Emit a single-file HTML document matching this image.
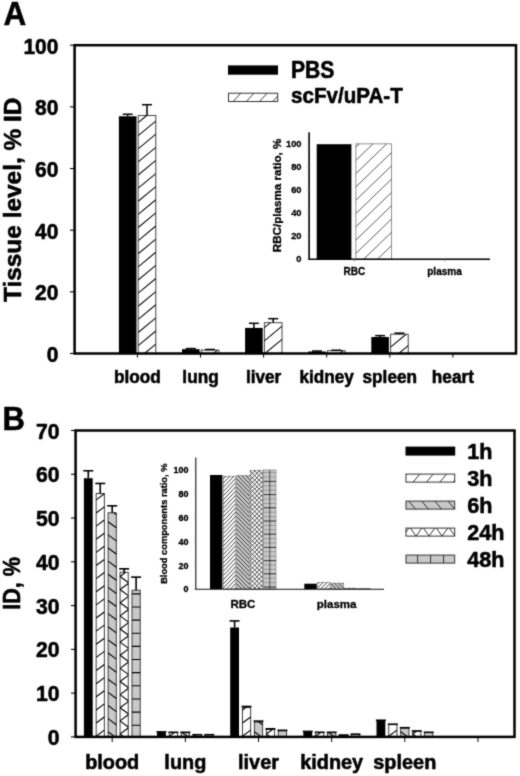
<!DOCTYPE html>
<html lang="en"><head><meta charset="utf-8"><title>Figure: tissue distribution</title>
<style>html,body{margin:0;padding:0;background:#fff}body{width:520px;height:776px;overflow:hidden}svg{display:block}text{font-family:'Liberation Sans', Arial, Helvetica, sans-serif;font-weight:bold;fill:#000}</style>
</head><body>
<svg width="520" height="776" viewBox="0 0 520 776">
<rect width="520" height="776" fill="#fff"/>
<defs><filter id="soft" x="0" y="0" width="520" height="776" filterUnits="userSpaceOnUse" color-interpolation-filters="sRGB"><feConvolveMatrix order="3" kernelMatrix="1 3 1 3 18 3 1 3 1" divisor="34" edgeMode="duplicate"/></filter></defs>
<g filter="url(#soft)">
<g id="panelA">
<text font-size="31.5" text-anchor="start" stroke="#000" stroke-width="0.55" stroke-linejoin="round" transform="translate(3.4 25.2) scale(1 1.05)">A</text>
<rect x="118.9" y="116.26" width="17.6" height="237.24" fill="#000"/>
<line x1="127.7" y1="116.26" x2="127.7" y2="114.26" stroke="#000" stroke-width="1.5"/>
<line x1="122.7" y1="114.26" x2="132.7" y2="114.26" stroke="#000" stroke-width="1.5"/>
<rect x="138.2" y="115.49" width="17.6" height="238.01" fill="#fff" stroke="#444" stroke-width="1"/>
<path d="M144.49 353.5L155.8 344.11M138.2 345.6L155.8 330.99M138.2 332.48L155.8 317.87M138.2 319.36L155.8 304.75M138.2 306.24L155.8 291.63M138.2 293.12L155.8 278.51M138.2 280L155.8 265.39M138.2 266.88L155.8 252.27M138.2 253.76L155.8 239.15M138.2 240.64L155.8 226.03M138.2 227.52L155.8 212.91M138.2 214.4L155.8 199.79M138.2 201.28L155.8 186.67M138.2 188.16L155.8 173.55M138.2 175.04L155.8 160.43M138.2 161.92L155.8 147.31M138.2 148.8L155.8 134.19M138.2 135.68L155.8 121.07M138.2 122.56L146.72 115.49" fill="none" stroke="#111" stroke-width="1.1"/>
<line x1="147" y1="115.49" x2="147" y2="104.7" stroke="#000" stroke-width="1.5"/>
<line x1="142" y1="104.7" x2="152" y2="104.7" stroke="#000" stroke-width="1.5"/>
<rect x="182" y="349.18" width="17.6" height="4.32" fill="#000"/>
<line x1="190.8" y1="349.18" x2="190.8" y2="348.57" stroke="#000" stroke-width="1.5"/>
<line x1="185.8" y1="348.57" x2="195.8" y2="348.57" stroke="#000" stroke-width="1.5"/>
<rect x="201.3" y="350.11" width="17.6" height="3.39" fill="#fff" stroke="#444" stroke-width="1"/>
<path d="M213.49 353.5L217.58 350.11M201.3 350.5L201.77 350.11" fill="none" stroke="#111" stroke-width="1.1"/>
<line x1="210.1" y1="350.11" x2="210.1" y2="349.49" stroke="#000" stroke-width="1.5"/>
<line x1="205.1" y1="349.49" x2="215.1" y2="349.49" stroke="#000" stroke-width="1.5"/>
<rect x="245.1" y="327.91" width="17.6" height="25.59" fill="#000"/>
<line x1="253.9" y1="327.91" x2="253.9" y2="323.29" stroke="#000" stroke-width="1.5"/>
<line x1="248.9" y1="323.29" x2="258.9" y2="323.29" stroke="#000" stroke-width="1.5"/>
<rect x="264.4" y="322.67" width="17.6" height="30.83" fill="#fff" stroke="#444" stroke-width="1"/>
<path d="M280.71 353.5L282 352.43M264.91 353.5L282 339.31M264.4 340.8L282 326.19M264.4 327.68L270.44 322.67" fill="none" stroke="#111" stroke-width="1.1"/>
<line x1="273.2" y1="322.67" x2="273.2" y2="318.66" stroke="#000" stroke-width="1.5"/>
<line x1="268.2" y1="318.66" x2="278.2" y2="318.66" stroke="#000" stroke-width="1.5"/>
<rect x="308.2" y="351.5" width="17.6" height="2" fill="#000"/>
<line x1="317" y1="351.5" x2="317" y2="351.03" stroke="#000" stroke-width="1.5"/>
<line x1="312" y1="351.03" x2="322" y2="351.03" stroke="#000" stroke-width="1.5"/>
<rect x="327.5" y="350.73" width="17.6" height="2.77" fill="#fff" stroke="#444" stroke-width="1"/>
<path d="M339.69 353.5L343.04 350.73" fill="none" stroke="#111" stroke-width="1.1"/>
<line x1="336.3" y1="350.73" x2="336.3" y2="350.26" stroke="#000" stroke-width="1.5"/>
<line x1="331.3" y1="350.26" x2="341.3" y2="350.26" stroke="#000" stroke-width="1.5"/>
<rect x="371.3" y="337.01" width="17.6" height="16.49" fill="#000"/>
<line x1="380.1" y1="337.01" x2="380.1" y2="335.62" stroke="#000" stroke-width="1.5"/>
<line x1="375.1" y1="335.62" x2="385.1" y2="335.62" stroke="#000" stroke-width="1.5"/>
<rect x="390.6" y="334.23" width="17.6" height="19.27" fill="#fff" stroke="#444" stroke-width="1"/>
<path d="M398.7 353.5L408.2 345.61M390.6 347.1L406.1 334.23" fill="none" stroke="#111" stroke-width="1.1"/>
<line x1="399.4" y1="334.23" x2="399.4" y2="333.15" stroke="#000" stroke-width="1.5"/>
<line x1="394.4" y1="333.15" x2="404.4" y2="333.15" stroke="#000" stroke-width="1.5"/>
<rect x="74.6" y="45.2" width="441.4" height="308.3" fill="none" stroke="#000" stroke-width="2.5"/>
<line x1="70" y1="353.5" x2="74.6" y2="353.5" stroke="#000" stroke-width="1.1"/>
<text font-size="21" text-anchor="end" stroke="#000" stroke-width="0.55" stroke-linejoin="round" transform="translate(58.4 361.9) scale(1 1.07)">0</text>
<line x1="70" y1="291.84" x2="74.6" y2="291.84" stroke="#000" stroke-width="1.1"/>
<text font-size="21" text-anchor="end" stroke="#000" stroke-width="0.55" stroke-linejoin="round" transform="translate(58.4 300.24) scale(1 1.07)">20</text>
<line x1="70" y1="230.18" x2="74.6" y2="230.18" stroke="#000" stroke-width="1.1"/>
<text font-size="21" text-anchor="end" stroke="#000" stroke-width="0.55" stroke-linejoin="round" transform="translate(58.4 238.58) scale(1 1.07)">40</text>
<line x1="70" y1="168.52" x2="74.6" y2="168.52" stroke="#000" stroke-width="1.1"/>
<text font-size="21" text-anchor="end" stroke="#000" stroke-width="0.55" stroke-linejoin="round" transform="translate(58.4 176.92) scale(1 1.07)">60</text>
<line x1="70" y1="106.86" x2="74.6" y2="106.86" stroke="#000" stroke-width="1.1"/>
<text font-size="21" text-anchor="end" stroke="#000" stroke-width="0.55" stroke-linejoin="round" transform="translate(58.4 115.26) scale(1 1.07)">80</text>
<line x1="70" y1="45.2" x2="74.6" y2="45.2" stroke="#000" stroke-width="1.1"/>
<text font-size="21" text-anchor="end" stroke="#000" stroke-width="0.55" stroke-linejoin="round" transform="translate(58.4 53.6) scale(1 1.07)">100</text>
<line x1="137.4" y1="353.5" x2="137.4" y2="357.6" stroke="#000" stroke-width="1"/>
<text font-size="17.2" text-anchor="middle" stroke="#000" stroke-width="0.55" stroke-linejoin="round" transform="translate(137.4 382.9) scale(1 1.1)">blood</text>
<line x1="200.5" y1="353.5" x2="200.5" y2="357.6" stroke="#000" stroke-width="1"/>
<text font-size="17.2" text-anchor="middle" stroke="#000" stroke-width="0.55" stroke-linejoin="round" transform="translate(200.5 382.9) scale(1 1.1)">lung</text>
<line x1="263.6" y1="353.5" x2="263.6" y2="357.6" stroke="#000" stroke-width="1"/>
<text font-size="17.2" text-anchor="middle" stroke="#000" stroke-width="0.55" stroke-linejoin="round" transform="translate(263.6 382.9) scale(1 1.1)">liver</text>
<line x1="326.7" y1="353.5" x2="326.7" y2="357.6" stroke="#000" stroke-width="1"/>
<text font-size="17.2" text-anchor="middle" stroke="#000" stroke-width="0.55" stroke-linejoin="round" transform="translate(326.7 382.9) scale(1 1.1)">kidney</text>
<line x1="389.8" y1="353.5" x2="389.8" y2="357.6" stroke="#000" stroke-width="1"/>
<text font-size="17.2" text-anchor="middle" stroke="#000" stroke-width="0.55" stroke-linejoin="round" transform="translate(389.8 382.9) scale(1 1.1)">spleen</text>
<line x1="452.9" y1="353.5" x2="452.9" y2="357.6" stroke="#000" stroke-width="1"/>
<text font-size="17.2" text-anchor="middle" stroke="#000" stroke-width="0.55" stroke-linejoin="round" transform="translate(452.9 382.9) scale(1 1.1)">heart</text>
<text font-size="23.5" text-anchor="middle" stroke="#000" stroke-width="0.55" stroke-linejoin="round" transform="translate(21 199.8) rotate(-90) scale(1.04 1)">Tissue level, % ID</text>
<rect x="228" y="65.4" width="50" height="9.3" fill="#000"/>
<rect x="228.5" y="93.2" width="49.2" height="8.3" fill="#fff" stroke="#333" stroke-width="1"/>
<path d="M272.77 101.5L277.7 96.08M259.59 101.5L267.14 93.2M246.41 101.5L253.95 93.2M233.23 101.5L240.77 93.2" fill="none" stroke="#2a2a2a" stroke-width="0.9"/>
<text font-size="21.1" text-anchor="start" stroke="#000" stroke-width="0.55" stroke-linejoin="round" transform="translate(291 77.5) scale(1 1.1)">PBS</text>
<text font-size="20.6" text-anchor="start" stroke="#000" stroke-width="0.55" stroke-linejoin="round" transform="translate(291 103) scale(1 1.1)">scFv/uPA-T</text>
<rect x="316.7" y="144.2" width="34.7" height="115" fill="#000"/>
<rect x="355.9" y="143.86" width="35.5" height="115.34" fill="#fff" stroke="#777" stroke-width="0.8"/>
<path d="M391.2 259.2L391.4 259.01M377.43 259.2L391.4 245.71M363.66 259.2L391.4 232.41M355.9 253.4L391.4 219.11M355.9 240.1L391.4 205.81M355.9 226.8L391.4 192.51M355.9 213.5L391.4 179.21M355.9 200.2L391.4 165.91M355.9 186.9L391.4 152.61M355.9 173.6L386.69 143.86M355.9 160.3L372.92 143.86M355.9 147L359.16 143.86" fill="none" stroke="#333" stroke-width="0.8"/>
<line x1="309.1" y1="132.3" x2="309.1" y2="259.9" stroke="#000" stroke-width="1.6"/>
<line x1="308.3" y1="259.2" x2="490" y2="259.2" stroke="#000" stroke-width="1.6"/>
<line x1="306.9" y1="259.2" x2="309.1" y2="259.2" stroke="#999" stroke-width="0.6"/>
<text font-size="9.3" text-anchor="end" stroke="#000" stroke-width="0.3" stroke-linejoin="round" transform="translate(301.5 261.9)">0</text>
<line x1="306.9" y1="236.2" x2="309.1" y2="236.2" stroke="#999" stroke-width="0.6"/>
<text font-size="9.3" text-anchor="end" stroke="#000" stroke-width="0.3" stroke-linejoin="round" transform="translate(301.5 238.9)">20</text>
<line x1="306.9" y1="213.2" x2="309.1" y2="213.2" stroke="#999" stroke-width="0.6"/>
<text font-size="9.3" text-anchor="end" stroke="#000" stroke-width="0.3" stroke-linejoin="round" transform="translate(301.5 215.9)">40</text>
<line x1="306.9" y1="190.2" x2="309.1" y2="190.2" stroke="#999" stroke-width="0.6"/>
<text font-size="9.3" text-anchor="end" stroke="#000" stroke-width="0.3" stroke-linejoin="round" transform="translate(301.5 192.9)">60</text>
<line x1="306.9" y1="167.2" x2="309.1" y2="167.2" stroke="#999" stroke-width="0.6"/>
<text font-size="9.3" text-anchor="end" stroke="#000" stroke-width="0.3" stroke-linejoin="round" transform="translate(301.5 169.9)">80</text>
<line x1="306.9" y1="144.2" x2="309.1" y2="144.2" stroke="#999" stroke-width="0.6"/>
<text font-size="9.3" text-anchor="end" stroke="#000" stroke-width="0.3" stroke-linejoin="round" transform="translate(301.5 146.9)">100</text>
<line x1="354.3" y1="259.2" x2="354.3" y2="261.8" stroke="#777" stroke-width="0.7"/>
<line x1="444.7" y1="259.2" x2="444.7" y2="261.8" stroke="#777" stroke-width="0.7"/>
<text font-size="10" text-anchor="middle" stroke="#000" stroke-width="0.3" stroke-linejoin="round" transform="translate(354.3 275.2)">RBC</text>
<text font-size="10" text-anchor="middle" stroke="#000" stroke-width="0.3" stroke-linejoin="round" transform="translate(444.5 275.2)">plasma</text>
<text font-size="10.1" text-anchor="middle" stroke="#000" stroke-width="0.3" stroke-linejoin="round" transform="translate(281 195.4) rotate(-90) scale(1.15 1)">RBC/plasma ratio, %</text>
</g>
<g id="panelB">
<text font-size="31" text-anchor="start" stroke="#000" stroke-width="0.55" stroke-linejoin="round" transform="translate(2.6 430.3) scale(1 1.05)">B</text>
<rect x="83.9" y="478.21" width="8.8" height="258.69" fill="#000"/>
<line x1="88.3" y1="478.21" x2="88.3" y2="470.77" stroke="#000" stroke-width="1.6"/>
<line x1="83.3" y1="470.77" x2="93.3" y2="470.77" stroke="#000" stroke-width="1.6"/>
<rect x="96.15" y="493.53" width="8.2" height="243.37" fill="#fff" stroke="#3c3c3c" stroke-width="1"/>
<path d="M96.15 736.2L104.35 730.13M96.15 723.07L104.35 717M96.15 709.94L104.35 703.87M96.15 696.81L104.35 690.74M96.15 683.68L104.35 677.61M96.15 670.55L104.35 664.48M96.15 657.42L104.35 651.35M96.15 644.29L104.35 638.22M96.15 631.16L104.35 625.09M96.15 618.03L104.35 611.96M96.15 604.9L104.35 598.83M96.15 591.77L104.35 585.7M96.15 578.64L104.35 572.57M96.15 565.51L104.35 559.44M96.15 552.38L104.35 546.31M96.15 539.25L104.35 533.18M96.15 526.12L104.35 520.05M96.15 512.99L104.35 506.92M96.15 499.86L104.35 493.79" fill="none" stroke="#000" stroke-width="1.12"/>
<line x1="100.25" y1="493.53" x2="100.25" y2="483.46" stroke="#000" stroke-width="1.6"/>
<line x1="95.25" y1="483.46" x2="105.25" y2="483.46" stroke="#000" stroke-width="1.6"/>
<rect x="108.1" y="512.79" width="8.2" height="224.11" fill="#c9c9c9" stroke="#3c3c3c" stroke-width="1"/>
<path d="M108.1 731.8L114.99 736.9M108.1 718.67L116.3 724.74M108.1 705.54L116.3 711.61M108.1 692.41L116.3 698.48M108.1 679.28L116.3 685.35M108.1 666.15L116.3 672.22M108.1 653.02L116.3 659.09M108.1 639.89L116.3 645.96M108.1 626.76L116.3 632.83M108.1 613.63L116.3 619.7M108.1 600.5L116.3 606.57M108.1 587.37L116.3 593.44M108.1 574.24L116.3 580.31M108.1 561.11L116.3 567.18M108.1 547.98L116.3 554.05M108.1 534.85L116.3 540.92M108.1 521.72L116.3 527.79M113.78 512.79L116.3 514.66" fill="none" stroke="#000" stroke-width="1.12"/>
<line x1="112.2" y1="512.79" x2="112.2" y2="505.79" stroke="#000" stroke-width="1.6"/>
<line x1="107.2" y1="505.79" x2="117.2" y2="505.79" stroke="#000" stroke-width="1.6"/>
<rect x="120.05" y="572.32" width="8.2" height="164.58" fill="#fff" stroke="#3c3c3c" stroke-width="1"/>
<path d="M120.05 734L128.25 727.93M120.05 720.87L128.25 714.8M120.05 707.74L128.25 701.67M120.05 694.61L128.25 688.54M120.05 681.48L128.25 675.41M120.05 668.35L128.25 662.28M120.05 655.22L128.25 649.15M120.05 642.09L128.25 636.02M120.05 628.96L128.25 622.89M120.05 615.83L128.25 609.76M120.05 602.7L128.25 596.63M120.05 589.57L128.25 583.5M120.05 576.44L125.62 572.32M120.05 734L123.97 736.9M120.05 720.87L128.25 726.94M120.05 707.74L128.25 713.81M120.05 694.61L128.25 700.68M120.05 681.48L128.25 687.55M120.05 668.35L128.25 674.42M120.05 655.22L128.25 661.29M120.05 642.09L128.25 648.16M120.05 628.96L128.25 635.03M120.05 615.83L128.25 621.9M120.05 602.7L128.25 608.77M120.05 589.57L128.25 595.64M120.05 576.44L128.25 582.51" fill="none" stroke="#000" stroke-width="1.12"/>
<line x1="124.15" y1="572.32" x2="124.15" y2="568.82" stroke="#000" stroke-width="1.6"/>
<line x1="119.15" y1="568.82" x2="129.15" y2="568.82" stroke="#000" stroke-width="1.6"/>
<rect x="132" y="590.27" width="8.2" height="146.63" fill="#c9c9c9" stroke="#3c3c3c" stroke-width="1"/>
<path d="M132 725.2L140.2 725.2M132 712.07L140.2 712.07M132 698.94L140.2 698.94M132 685.81L140.2 685.81M132 672.68L140.2 672.68M132 659.55L140.2 659.55M132 646.42L140.2 646.42M132 633.29L140.2 633.29M132 620.16L140.2 620.16M132 607.03L140.2 607.03M132 593.9L140.2 593.9" fill="none" stroke="#000" stroke-width="1.12"/>
<line x1="136.1" y1="590.27" x2="136.1" y2="577.13" stroke="#000" stroke-width="1.6"/>
<line x1="131.1" y1="577.13" x2="141.1" y2="577.13" stroke="#000" stroke-width="1.6"/>
<rect x="157.05" y="732.09" width="8.8" height="4.81" fill="#000"/>
<line x1="156.45" y1="731.87" x2="166.45" y2="731.87" stroke="#000" stroke-width="1.6"/>
<rect x="169.3" y="732.52" width="8.2" height="4.38" fill="#fff" stroke="#3c3c3c" stroke-width="1"/>
<path d="M169.3 736.2L174.27 732.52" fill="none" stroke="#000" stroke-width="1.12"/>
<line x1="168.4" y1="732.3" x2="178.4" y2="732.3" stroke="#000" stroke-width="1.6"/>
<rect x="181.25" y="732.52" width="8.2" height="4.38" fill="#c9c9c9" stroke="#3c3c3c" stroke-width="1"/>
<path d="M182.23 732.52L188.14 736.9" fill="none" stroke="#000" stroke-width="1.12"/>
<line x1="180.35" y1="732.3" x2="190.35" y2="732.3" stroke="#000" stroke-width="1.6"/>
<rect x="193.2" y="734.71" width="8.2" height="2.19" fill="#fff" stroke="#3c3c3c" stroke-width="1"/>
<path d="M194.16 734.71L197.12 736.9" fill="none" stroke="#000" stroke-width="1.12"/>
<line x1="192.3" y1="734.71" x2="202.3" y2="734.71" stroke="#000" stroke-width="1.6"/>
<rect x="205.15" y="734.71" width="8.2" height="2.19" fill="#c9c9c9" stroke="#3c3c3c" stroke-width="1"/>
<line x1="204.25" y1="734.71" x2="214.25" y2="734.71" stroke="#000" stroke-width="1.6"/>
<rect x="230.2" y="627.47" width="8.8" height="109.43" fill="#000"/>
<line x1="234.6" y1="627.47" x2="234.6" y2="620.91" stroke="#000" stroke-width="1.6"/>
<line x1="229.6" y1="620.91" x2="239.6" y2="620.91" stroke="#000" stroke-width="1.6"/>
<rect x="242.45" y="707.57" width="8.2" height="29.33" fill="#fff" stroke="#3c3c3c" stroke-width="1"/>
<path d="M242.45 736.2L250.65 730.13M242.45 723.07L250.65 717M242.45 709.94L245.65 707.57" fill="none" stroke="#000" stroke-width="1.12"/>
<line x1="246.55" y1="707.57" x2="246.55" y2="706.48" stroke="#000" stroke-width="1.6"/>
<line x1="241.55" y1="706.48" x2="251.55" y2="706.48" stroke="#000" stroke-width="1.6"/>
<rect x="254.4" y="722.02" width="8.2" height="14.88" fill="#c9c9c9" stroke="#3c3c3c" stroke-width="1"/>
<path d="M254.4 731.8L261.29 736.9M258.92 722.02L262.6 724.74" fill="none" stroke="#000" stroke-width="1.12"/>
<line x1="258.5" y1="722.02" x2="258.5" y2="721.14" stroke="#000" stroke-width="1.6"/>
<line x1="253.5" y1="721.14" x2="263.5" y2="721.14" stroke="#000" stroke-width="1.6"/>
<rect x="266.35" y="729.46" width="8.2" height="7.44" fill="#fff" stroke="#3c3c3c" stroke-width="1"/>
<path d="M266.35 734L272.49 729.46M266.35 734L270.27 736.9" fill="none" stroke="#000" stroke-width="1.12"/>
<line x1="270.45" y1="729.46" x2="270.45" y2="728.8" stroke="#000" stroke-width="1.6"/>
<line x1="265.45" y1="728.8" x2="275.45" y2="728.8" stroke="#000" stroke-width="1.6"/>
<rect x="278.3" y="730.77" width="8.2" height="6.13" fill="#c9c9c9" stroke="#3c3c3c" stroke-width="1"/>
<line x1="282.4" y1="730.77" x2="282.4" y2="730.33" stroke="#000" stroke-width="1.6"/>
<line x1="277.4" y1="730.33" x2="287.4" y2="730.33" stroke="#000" stroke-width="1.6"/>
<rect x="303.35" y="731.65" width="8.8" height="5.25" fill="#000"/>
<line x1="302.75" y1="731.43" x2="312.75" y2="731.43" stroke="#000" stroke-width="1.6"/>
<rect x="315.6" y="732.52" width="8.2" height="4.38" fill="#fff" stroke="#3c3c3c" stroke-width="1"/>
<path d="M315.6 736.2L320.57 732.52" fill="none" stroke="#000" stroke-width="1.12"/>
<line x1="314.7" y1="732.3" x2="324.7" y2="732.3" stroke="#000" stroke-width="1.6"/>
<rect x="327.55" y="732.52" width="8.2" height="4.38" fill="#c9c9c9" stroke="#3c3c3c" stroke-width="1"/>
<path d="M328.53 732.52L334.44 736.9" fill="none" stroke="#000" stroke-width="1.12"/>
<line x1="326.65" y1="732.3" x2="336.65" y2="732.3" stroke="#000" stroke-width="1.6"/>
<rect x="339.5" y="735.15" width="8.2" height="1.75" fill="#fff" stroke="#3c3c3c" stroke-width="1"/>
<path d="M341.05 735.15L343.42 736.9" fill="none" stroke="#000" stroke-width="1.12"/>
<line x1="338.6" y1="735.15" x2="348.6" y2="735.15" stroke="#000" stroke-width="1.6"/>
<rect x="351.45" y="734.27" width="8.2" height="2.63" fill="#c9c9c9" stroke="#3c3c3c" stroke-width="1"/>
<line x1="350.55" y1="734.27" x2="360.55" y2="734.27" stroke="#000" stroke-width="1.6"/>
<rect x="376.5" y="720.7" width="8.8" height="16.2" fill="#000"/>
<line x1="380.9" y1="720.7" x2="380.9" y2="720.27" stroke="#000" stroke-width="1.6"/>
<line x1="375.9" y1="720.27" x2="385.9" y2="720.27" stroke="#000" stroke-width="1.6"/>
<rect x="388.75" y="724.64" width="8.2" height="12.26" fill="#fff" stroke="#3c3c3c" stroke-width="1"/>
<path d="M388.75 736.2L396.95 730.13" fill="none" stroke="#000" stroke-width="1.12"/>
<line x1="392.85" y1="724.64" x2="392.85" y2="724.21" stroke="#000" stroke-width="1.6"/>
<line x1="387.85" y1="724.21" x2="397.85" y2="724.21" stroke="#000" stroke-width="1.6"/>
<rect x="400.7" y="728.15" width="8.2" height="8.75" fill="#c9c9c9" stroke="#3c3c3c" stroke-width="1"/>
<path d="M400.7 731.8L407.59 736.9" fill="none" stroke="#000" stroke-width="1.12"/>
<line x1="404.8" y1="728.15" x2="404.8" y2="727.71" stroke="#000" stroke-width="1.6"/>
<line x1="399.8" y1="727.71" x2="409.8" y2="727.71" stroke="#000" stroke-width="1.6"/>
<rect x="412.65" y="731.21" width="8.2" height="5.69" fill="#fff" stroke="#3c3c3c" stroke-width="1"/>
<path d="M412.65 734L416.42 731.21M412.65 734L416.57 736.9" fill="none" stroke="#000" stroke-width="1.12"/>
<line x1="411.75" y1="730.99" x2="421.75" y2="730.99" stroke="#000" stroke-width="1.6"/>
<rect x="424.6" y="732.52" width="8.2" height="4.38" fill="#c9c9c9" stroke="#3c3c3c" stroke-width="1"/>
<line x1="423.7" y1="732.3" x2="433.7" y2="732.3" stroke="#000" stroke-width="1.6"/>
<rect x="75.6" y="430.5" width="438.9" height="306.4" fill="none" stroke="#000" stroke-width="2.5"/>
<line x1="71" y1="736.9" x2="75.6" y2="736.9" stroke="#000" stroke-width="1.1"/>
<text font-size="21.2" text-anchor="end" stroke="#000" stroke-width="0.55" stroke-linejoin="round" transform="translate(59.5 744.9) scale(1 1.07)">0</text>
<line x1="71" y1="693.13" x2="75.6" y2="693.13" stroke="#000" stroke-width="1.1"/>
<text font-size="21.2" text-anchor="end" stroke="#000" stroke-width="0.55" stroke-linejoin="round" transform="translate(59.5 701.13) scale(1 1.07)">10</text>
<line x1="71" y1="649.36" x2="75.6" y2="649.36" stroke="#000" stroke-width="1.1"/>
<text font-size="21.2" text-anchor="end" stroke="#000" stroke-width="0.55" stroke-linejoin="round" transform="translate(59.5 657.36) scale(1 1.07)">20</text>
<line x1="71" y1="605.59" x2="75.6" y2="605.59" stroke="#000" stroke-width="1.1"/>
<text font-size="21.2" text-anchor="end" stroke="#000" stroke-width="0.55" stroke-linejoin="round" transform="translate(59.5 613.59) scale(1 1.07)">30</text>
<line x1="71" y1="561.81" x2="75.6" y2="561.81" stroke="#000" stroke-width="1.1"/>
<text font-size="21.2" text-anchor="end" stroke="#000" stroke-width="0.55" stroke-linejoin="round" transform="translate(59.5 569.81) scale(1 1.07)">40</text>
<line x1="71" y1="518.04" x2="75.6" y2="518.04" stroke="#000" stroke-width="1.1"/>
<text font-size="21.2" text-anchor="end" stroke="#000" stroke-width="0.55" stroke-linejoin="round" transform="translate(59.5 526.04) scale(1 1.07)">50</text>
<line x1="71" y1="474.27" x2="75.6" y2="474.27" stroke="#000" stroke-width="1.1"/>
<text font-size="21.2" text-anchor="end" stroke="#000" stroke-width="0.55" stroke-linejoin="round" transform="translate(59.5 482.27) scale(1 1.07)">60</text>
<line x1="71" y1="430.5" x2="75.6" y2="430.5" stroke="#000" stroke-width="1.1"/>
<text font-size="21.2" text-anchor="end" stroke="#000" stroke-width="0.55" stroke-linejoin="round" transform="translate(59.5 438.5) scale(1 1.07)">70</text>
<line x1="112.2" y1="736.9" x2="112.2" y2="742" stroke="#000" stroke-width="1"/>
<text font-size="19.9" text-anchor="middle" stroke="#000" stroke-width="0.55" stroke-linejoin="round" transform="translate(112.2 769.3)">blood</text>
<line x1="185.35" y1="736.9" x2="185.35" y2="742" stroke="#000" stroke-width="1"/>
<text font-size="19.9" text-anchor="middle" stroke="#000" stroke-width="0.55" stroke-linejoin="round" transform="translate(185.35 769.3)">lung</text>
<line x1="258.5" y1="736.9" x2="258.5" y2="742" stroke="#000" stroke-width="1"/>
<text font-size="19.9" text-anchor="middle" stroke="#000" stroke-width="0.55" stroke-linejoin="round" transform="translate(258.5 769.3)">liver</text>
<line x1="331.65" y1="736.9" x2="331.65" y2="742" stroke="#000" stroke-width="1"/>
<text font-size="19.9" text-anchor="middle" stroke="#000" stroke-width="0.55" stroke-linejoin="round" transform="translate(331.65 769.3)">kidney</text>
<line x1="404.8" y1="736.9" x2="404.8" y2="742" stroke="#000" stroke-width="1"/>
<text font-size="19.9" text-anchor="middle" stroke="#000" stroke-width="0.55" stroke-linejoin="round" transform="translate(404.8 769.3)">spleen</text>
<line x1="477.95" y1="736.9" x2="477.95" y2="742" stroke="#000" stroke-width="1"/>
<text font-size="21.6" text-anchor="middle" stroke="#000" stroke-width="0.55" stroke-linejoin="round" transform="translate(19.9 583.4) rotate(-90) scale(1 1.07)">ID, %</text>
<rect x="405.5" y="446.6" width="49.7" height="9" fill="#000"/>
<text font-size="21.6" text-anchor="start" stroke="#000" stroke-width="0.55" stroke-linejoin="round" transform="translate(467.3 458.8) scale(1 1.03)">1h</text>
<rect x="406" y="474.1" width="48.7" height="8" fill="#fff" stroke="#333" stroke-width="1"/>
<path d="M453.3 482.1L454.7 480.42M439.9 482.1L446.57 474.1M426.5 482.1L433.17 474.1M413.1 482.1L419.77 474.1M406 474.54L406.37 474.1" fill="none" stroke="#2a2a2a" stroke-width="0.95"/>
<text font-size="21.6" text-anchor="start" stroke="#000" stroke-width="0.55" stroke-linejoin="round" transform="translate(467.3 485.8) scale(1 1.03)">3h</text>
<rect x="406" y="501.1" width="48.7" height="8" fill="#c9c9c9" stroke="#333" stroke-width="1"/>
<path d="M408.73 501.1L415.4 509.1M421.83 501.1L428.5 509.1M434.93 501.1L441.6 509.1M448.03 501.1L454.7 509.1" fill="none" stroke="#2a2a2a" stroke-width="0.95"/>
<text font-size="21.6" text-anchor="start" stroke="#000" stroke-width="0.55" stroke-linejoin="round" transform="translate(467.3 512.8) scale(1 1.03)">6h</text>
<rect x="406" y="528.1" width="48.7" height="8" fill="#fff" stroke="#333" stroke-width="1"/>
<path d="M442.1 536.1L447.81 528.1M429.1 536.1L434.81 528.1M416.1 536.1L421.81 528.1M406 532.04L408.81 528.1" fill="none" stroke="#2a2a2a" stroke-width="0.95"/>
<path d="M410.39 528.1L416.1 536.1M423.39 528.1L429.1 536.1M436.39 528.1L442.1 536.1M449.39 528.1L454.7 535.54" fill="none" stroke="#2a2a2a" stroke-width="0.95"/>
<text font-size="21.6" text-anchor="start" stroke="#000" stroke-width="0.55" stroke-linejoin="round" transform="translate(467.3 539.8) scale(1 1.03)">24h</text>
<rect x="406" y="555.1" width="48.7" height="8" fill="#c9c9c9" stroke="#333" stroke-width="1"/>
<path d="M417.6 555.1L417.6 563.1M430.6 555.1L430.6 563.1M443.6 555.1L443.6 563.1" fill="none" stroke="#2a2a2a" stroke-width="0.95"/>
<text font-size="21.6" text-anchor="start" stroke="#000" stroke-width="0.55" stroke-linejoin="round" transform="translate(467.3 566.8) scale(1 1.03)">48h</text>
<rect x="210" y="475" width="12.4" height="114" fill="#000"/>
<rect x="223.4" y="476.2" width="12.4" height="112.8" fill="#fff" stroke="#777" stroke-width="0.6"/>
<path d="M234.45 589L235.8 587.58M230.45 589L235.8 583.38M226.45 589L235.8 579.18M223.4 588L235.8 574.98M223.4 583.8L235.8 570.78M223.4 579.6L235.8 566.58M223.4 575.4L235.8 562.38M223.4 571.2L235.8 558.18M223.4 567L235.8 553.98M223.4 562.8L235.8 549.78M223.4 558.6L235.8 545.58M223.4 554.4L235.8 541.38M223.4 550.2L235.8 537.18M223.4 546L235.8 532.98M223.4 541.8L235.8 528.78M223.4 537.6L235.8 524.58M223.4 533.4L235.8 520.38M223.4 529.2L235.8 516.18M223.4 525L235.8 511.98M223.4 520.8L235.8 507.78M223.4 516.6L235.8 503.58M223.4 512.4L235.8 499.38M223.4 508.2L235.8 495.18M223.4 504L235.8 490.98M223.4 499.8L235.8 486.78M223.4 495.6L235.8 482.58M223.4 491.4L235.8 478.38M223.4 487.2L233.88 476.2M223.4 483L229.88 476.2M223.4 478.8L225.88 476.2" fill="none" stroke="#141414" stroke-width="0.8"/>
<rect x="236.8" y="475.6" width="12.4" height="113.4" fill="#c9c9c9" stroke="#777" stroke-width="0.6"/>
<path d="M236.8 588L237.75 589M236.8 583.8L241.75 589M236.8 579.6L245.75 589M236.8 575.4L249.2 588.42M236.8 571.2L249.2 584.22M236.8 567L249.2 580.02M236.8 562.8L249.2 575.82M236.8 558.6L249.2 571.62M236.8 554.4L249.2 567.42M236.8 550.2L249.2 563.22M236.8 546L249.2 559.02M236.8 541.8L249.2 554.82M236.8 537.6L249.2 550.62M236.8 533.4L249.2 546.42M236.8 529.2L249.2 542.22M236.8 525L249.2 538.02M236.8 520.8L249.2 533.82M236.8 516.6L249.2 529.62M236.8 512.4L249.2 525.42M236.8 508.2L249.2 521.22M236.8 504L249.2 517.02M236.8 499.8L249.2 512.82M236.8 495.6L249.2 508.62M236.8 491.4L249.2 504.42M236.8 487.2L249.2 500.22M236.8 483L249.2 496.02M236.8 478.8L249.2 491.82M237.75 475.6L249.2 487.62M241.75 475.6L249.2 483.42M245.75 475.6L249.2 479.22" fill="none" stroke="#141414" stroke-width="0.8"/>
<rect x="250.2" y="470.44" width="12.4" height="118.56" fill="#fff" stroke="#777" stroke-width="0.6"/>
<path d="M258.2 589L262.6 584.6M253.7 589L262.6 580.1M250.2 588L262.6 575.6M250.2 583.5L262.6 571.1M250.2 579L262.6 566.6M250.2 574.5L262.6 562.1M250.2 570L262.6 557.6M250.2 565.5L262.6 553.1M250.2 561L262.6 548.6M250.2 556.5L262.6 544.1M250.2 552L262.6 539.6M250.2 547.5L262.6 535.1M250.2 543L262.6 530.6M250.2 538.5L262.6 526.1M250.2 534L262.6 521.6M250.2 529.5L262.6 517.1M250.2 525L262.6 512.6M250.2 520.5L262.6 508.1M250.2 516L262.6 503.6M250.2 511.5L262.6 499.1M250.2 507L262.6 494.6M250.2 502.5L262.6 490.1M250.2 498L262.6 485.6M250.2 493.5L262.6 481.1M250.2 489L262.6 476.6M250.2 484.5L262.6 472.1M250.2 480L259.76 470.44M250.2 475.5L255.26 470.44M250.2 471L250.76 470.44M250.2 588L251.2 589M250.2 583.5L255.7 589M250.2 579L260.2 589M250.2 574.5L262.6 586.9M250.2 570L262.6 582.4M250.2 565.5L262.6 577.9M250.2 561L262.6 573.4M250.2 556.5L262.6 568.9M250.2 552L262.6 564.4M250.2 547.5L262.6 559.9M250.2 543L262.6 555.4M250.2 538.5L262.6 550.9M250.2 534L262.6 546.4M250.2 529.5L262.6 541.9M250.2 525L262.6 537.4M250.2 520.5L262.6 532.9M250.2 516L262.6 528.4M250.2 511.5L262.6 523.9M250.2 507L262.6 519.4M250.2 502.5L262.6 514.9M250.2 498L262.6 510.4M250.2 493.5L262.6 505.9M250.2 489L262.6 501.4M250.2 484.5L262.6 496.9M250.2 480L262.6 492.4M250.2 475.5L262.6 487.9M250.2 471L262.6 483.4M254.14 470.44L262.6 478.9M258.64 470.44L262.6 474.4" fill="none" stroke="#141414" stroke-width="0.72"/>
<rect x="263.6" y="469.96" width="12.4" height="119.04" fill="#c9c9c9" stroke="#777" stroke-width="0.6"/>
<path d="M263.6 587L276 587M263.6 582.6L276 582.6M263.6 578.2L276 578.2M263.6 573.8L276 573.8M263.6 569.4L276 569.4M263.6 565L276 565M263.6 560.6L276 560.6M263.6 556.2L276 556.2M263.6 551.8L276 551.8M263.6 547.4L276 547.4M263.6 543L276 543M263.6 538.6L276 538.6M263.6 534.2L276 534.2M263.6 529.8L276 529.8M263.6 525.4L276 525.4M263.6 521L276 521M263.6 516.6L276 516.6M263.6 512.2L276 512.2M263.6 507.8L276 507.8M263.6 503.4L276 503.4M263.6 499L276 499M263.6 494.6L276 494.6M263.6 490.2L276 490.2M263.6 485.8L276 485.8M263.6 481.4L276 481.4M263.6 477L276 477M263.6 472.6L276 472.6" fill="none" stroke="#666" stroke-width="0.5"/>
<path d="M263.6 587L276 587M263.6 573.8L276 573.8M263.6 560.6L276 560.6M263.6 547.4L276 547.4M263.6 534.2L276 534.2M263.6 521L276 521M263.6 507.8L276 507.8M263.6 494.6L276 494.6M263.6 481.4L276 481.4" fill="none" stroke="#141414" stroke-width="0.7"/>
<path d="M269.8 469.96L269.8 589" fill="none" stroke="#141414" stroke-width="0.65"/>
<rect x="304.3" y="583.72" width="12.4" height="5.28" fill="#000"/>
<rect x="317.7" y="582.4" width="12.4" height="6.6" fill="#fff" stroke="#777" stroke-width="0.6"/>
<path d="M328.75 589L330.1 587.58M324.75 589L330.1 583.38M320.75 589L327.03 582.4M317.7 588L323.03 582.4M317.7 583.8L319.03 582.4" fill="none" stroke="#141414" stroke-width="0.8"/>
<rect x="331.1" y="583.12" width="12.4" height="5.88" fill="#c9c9c9" stroke="#777" stroke-width="0.6"/>
<path d="M331.1 588L332.05 589M331.1 583.8L336.05 589M334.45 583.12L340.05 589M338.45 583.12L343.5 588.42M342.45 583.12L343.5 584.22" fill="none" stroke="#141414" stroke-width="0.8"/>
<rect x="344.5" y="588.16" width="12.4" height="0.84" fill="#fff" stroke="#777" stroke-width="0.6"/>
<path d="M352.5 589L353.34 588.16M348 589L348.84 588.16M344.66 588.16L345.5 589M349.16 588.16L350 589M353.66 588.16L354.5 589" fill="none" stroke="#141414" stroke-width="0.72"/>
<rect x="357.9" y="588.52" width="12.4" height="0.48" fill="#c9c9c9" stroke="#777" stroke-width="0.6"/>
<line x1="195.8" y1="457.5" x2="195.8" y2="589.5" stroke="#111" stroke-width="1.1"/>
<line x1="195.3" y1="589.2" x2="384" y2="589.2" stroke="#111" stroke-width="1.15"/>
<line x1="193.8" y1="589" x2="195.8" y2="589" stroke="#888" stroke-width="0.6"/>
<text font-size="9" text-anchor="end" stroke="#000" stroke-width="0.3" stroke-linejoin="round" transform="translate(188.6 592.4) scale(1 1.08)">0</text>
<line x1="193.8" y1="565" x2="195.8" y2="565" stroke="#888" stroke-width="0.6"/>
<text font-size="9" text-anchor="end" stroke="#000" stroke-width="0.3" stroke-linejoin="round" transform="translate(188.6 568.5) scale(1 1.08)">20</text>
<line x1="193.8" y1="541" x2="195.8" y2="541" stroke="#888" stroke-width="0.6"/>
<text font-size="9" text-anchor="end" stroke="#000" stroke-width="0.3" stroke-linejoin="round" transform="translate(188.6 544.6) scale(1 1.08)">40</text>
<line x1="193.8" y1="517" x2="195.8" y2="517" stroke="#888" stroke-width="0.6"/>
<text font-size="9" text-anchor="end" stroke="#000" stroke-width="0.3" stroke-linejoin="round" transform="translate(188.6 520.7) scale(1 1.08)">60</text>
<line x1="193.8" y1="493" x2="195.8" y2="493" stroke="#888" stroke-width="0.6"/>
<text font-size="9" text-anchor="end" stroke="#000" stroke-width="0.3" stroke-linejoin="round" transform="translate(188.6 496.8) scale(1 1.08)">80</text>
<line x1="193.8" y1="469" x2="195.8" y2="469" stroke="#888" stroke-width="0.6"/>
<text font-size="9" text-anchor="end" stroke="#000" stroke-width="0.3" stroke-linejoin="round" transform="translate(188.6 472.9) scale(1 1.08)">100</text>
<text font-size="11.5" text-anchor="middle" stroke="#000" stroke-width="0.3" stroke-linejoin="round" transform="translate(242.9 608)">RBC</text>
<text font-size="11.5" text-anchor="middle" stroke="#000" stroke-width="0.3" stroke-linejoin="round" transform="translate(336.6 608)">plasma</text>
<text font-size="9.3" text-anchor="middle" stroke="#000" stroke-width="0.3" stroke-linejoin="round" transform="translate(167.2 523.7) rotate(-90)">Blood components ratio, %</text>
</g>
</g>
</svg>
</body></html>
